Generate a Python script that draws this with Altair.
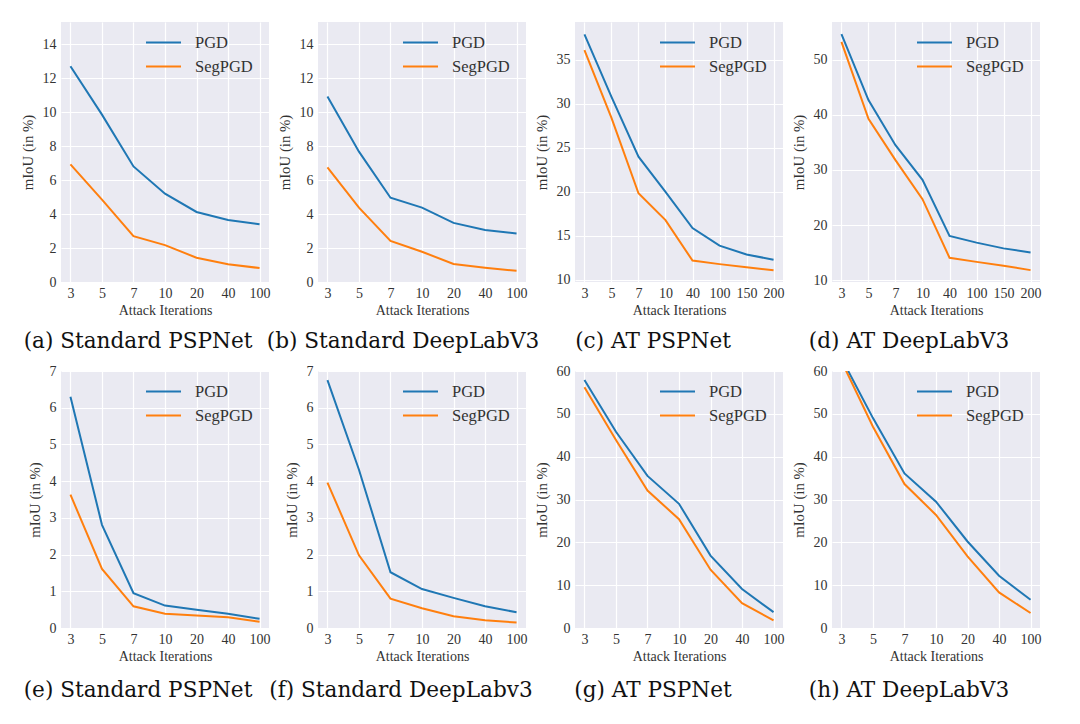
import altair as alt
import pandas as pd

iters_std = ["3", "5", "7", "10", "20", "40", "100"]
iters_at = ["3", "5", "7", "10", "40", "100", "150", "200"]
methods = ["PGD", "SegPGD"]

captions = [
    "(a) Standard PSPNet", "(b) Standard DeepLabV3", "(c) AT PSPNet", "(d) AT DeepLabV3",
    "(e) Standard PSPNet", "(f) Standard DeepLabv3", "(g) AT PSPNet", "(h) AT DeepLabV3",
]

a_pgd = [12.7, 9.85, 6.8, 5.2, 4.12, 3.65, 3.4]
a_seg = [6.92, 4.85, 2.7, 2.17, 1.43, 1.05, 0.82]
b_pgd = [10.92, 7.67, 4.96, 4.38, 3.48, 3.06, 2.86]
b_seg = [6.74, 4.38, 2.42, 1.78, 1.06, 0.84, 0.66]
c_pgd = [37.9, 30.8, 24.0, 20.0, 15.9, 13.9, 12.9, 12.3]
c_seg = [36.1, 28.4, 19.85, 16.8, 12.2, 11.8, 11.44, 11.1]
d_pgd = [54.7, 42.7, 34.5, 28.2, 18.0, 16.8, 15.75, 15.0]
d_seg = [53.3, 39.3, 31.8, 24.7, 14.05, 13.3, 12.6, 11.8]
e_pgd = [6.3, 2.81, 0.95, 0.61, 0.5, 0.39, 0.25]
e_seg = [3.63, 1.61, 0.59, 0.39, 0.34, 0.29, 0.17]
f_pgd = [6.75, 4.31, 1.52, 1.06, 0.82, 0.59, 0.43]
f_seg = [3.96, 1.98, 0.80, 0.54, 0.32, 0.21, 0.15]
g_pgd = [57.9, 45.8, 35.5, 29.0, 16.9, 9.1, 3.7]
g_seg = [56.2, 43.9, 32.1, 25.4, 13.6, 5.8, 1.8]
h_pgd = [63.0, 49.0, 36.1, 29.5, 20.2, 12.2, 6.6]
h_seg = [62.3, 47.0, 33.6, 26.4, 16.7, 8.3, 3.5]

y_dom_ab = [0, 15.3]
y_ticks_ab = [0, 2, 4, 6, 8, 10, 12, 14]
y_dom_c = [9.77, 39.3]
y_ticks_c = [10, 15, 20, 25, 30, 35]
y_dom_d = [9.64, 56.9]
y_ticks_d = [10, 20, 30, 40, 50]
y_dom_ef = [0, 7]
y_ticks_ef = [0, 1, 2, 3, 4, 5, 6, 7]
y_dom_gh = [0, 60]
y_ticks_gh = [0, 10, 20, 30, 40, 50, 60]

COLORS = ["#1f77b4", "#ff7f0e"]
SERIF = "Liberation Serif"
TXT = "#333333"


def panel(cats, pgd, seg, dom, ticks, caption, dx, height, offset):
    df = pd.DataFrame({
        "iter": cats + cats,
        "mIoU": pgd + seg,
        "method": [methods[0]] * len(cats) + [methods[1]] * len(cats),
    })
    pad = 0.3 if len(cats) == 7 else 0.35
    return alt.Chart(df).mark_line(strokeWidth=2, clip=True).encode(
        x=alt.X("iter:N", sort=cats,
                scale=alt.Scale(type="point", padding=pad),
                axis=alt.Axis(title="Attack Iterations", labelAngle=0,
                              labelPadding=4, titlePadding=3, titleFontSize=14)),
        y=alt.Y("mIoU:Q", scale=alt.Scale(domain=dom, nice=False, zero=False),
                axis=alt.Axis(values=ticks, title="mIoU (in %)",
                              labelPadding=5, titlePadding=7, titleFontSize=14.8)),
        color=alt.Color("method:N",
                        scale=alt.Scale(domain=methods, range=COLORS),
                        legend=alt.Legend(title=None, orient="none",
                                          legendX=84, legendY=12,
                                          symbolType="stroke", symbolSize=1225,
                                          symbolStrokeWidth=2, clipHeight=17,
                                          labelFont=SERIF, labelFontSize=16.5,
                                          labelColor=TXT, labelOffset=13,
                                          rowPadding=7, padding=0)),
    ).properties(
        width=208, height=height,
        title=alt.TitleParams(text=caption, orient="bottom", anchor="middle",
                              frame="group", font="DejaVu Serif", fontSize=21.6,
                              fontWeight="normal", color="#111111",
                              offset=offset, dx=dx),
    )


charts = [
    panel(iters_std, a_pgd, a_seg, y_dom_ab, y_ticks_ab, captions[0], -27, 260, 14),
    panel(iters_std, b_pgd, b_seg, y_dom_ab, y_ticks_ab, captions[1], -19, 260, 14),
    panel(iters_at, c_pgd, c_seg, y_dom_c, y_ticks_c, captions[2], -26, 260, 14),
    panel(iters_at, d_pgd, d_seg, y_dom_d, y_ticks_d, captions[3], -27, 260, 14),
    panel(iters_std, e_pgd, e_seg, y_dom_ef, y_ticks_ef, captions[4], -27, 257, 17),
    panel(iters_std, f_pgd, f_seg, y_dom_ef, y_ticks_ef, captions[5], -21, 257, 17),
    panel(iters_std, g_pgd, g_seg, y_dom_gh, y_ticks_gh, captions[6], -26, 257, 17),
    panel(iters_std, h_pgd, h_seg, y_dom_gh, y_ticks_gh, captions[7], -27, 257, 17),
]

chart = alt.concat(
    *charts, columns=4, bounds="flush", spacing={"row": 89, "column": 49}
).resolve_scale(
    x="independent", y="independent", color="independent"
).resolve_legend(
    color="independent"
).properties(
    padding={"left": 12, "top": 14, "right": 5, "bottom": 5},
    background="white",
).configure_view(
    fill="#EAEAF2", strokeWidth=0
).configure_axis(
    grid=True, gridColor="white", gridWidth=1.2, domain=False, ticks=False,
    labelFont=SERIF, labelFontSize=14, labelColor=TXT,
    titleFont=SERIF, titleFontWeight="normal", titleColor=TXT,
)

chart.save("out.html", embed_options={"renderer": "svg", "actions": False})
